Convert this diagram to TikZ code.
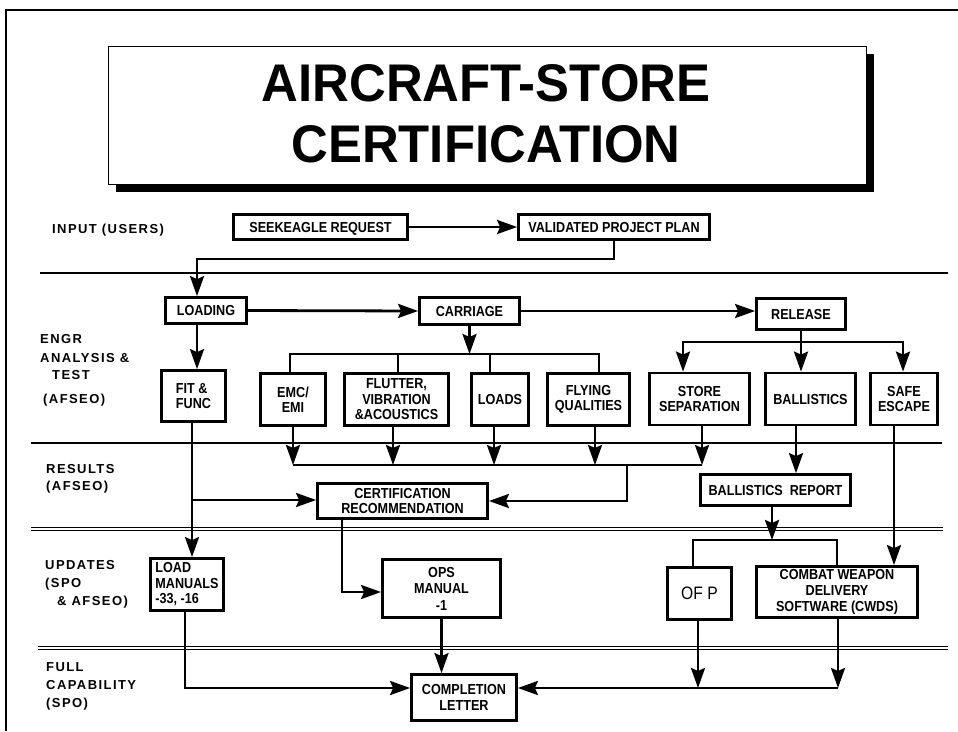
\documentclass[tikz,border=0pt]{standalone}
\usepackage{fontspec}
\setmainfont{Liberation Sans}
\newfontfamily\lblfont{Liberation Sans}[LetterSpace=11]
\newfontfamily\boxfont{Liberation Sans}[FakeStretch=0.87]
\newfontfamily\titlefont{Liberation Sans}[FakeStretch=0.96]
\usetikzlibrary{arrows.meta,calc,shadows}
\begin{document}
\begin{tikzpicture}[x=1pt,y=-1pt,
  box/.style={draw, line width=2.8pt, fill=white, inner sep=1pt, align=center,
    font={\boxfont\bfseries\fontsize{14.5}{15.5}\selectfont}},
  oneline/.style={text height=10.4pt, text depth=0pt},
  lbl/.style={anchor=base west, inner sep=0pt, font={\lblfont\bfseries\fontsize{13}{15}\selectfont}},
  ttl/.style={anchor=base, inner sep=0pt, font={\titlefont\bfseries\fontsize{53}{60}\selectfont}},
  conn/.style={line width=2.8pt},
  arr/.style={conn, -{Stealth[length=20pt,width=14pt,inset=3pt]}},
  sep/.style={line width=2pt},
  dsep/.style={double, double distance=1.6pt, line width=0.8pt},
]
\useasboundingbox (0,0) rectangle (958,731);
% outer frame
\draw[line width=1.3pt] (958,10) -- (6,10) -- (6,731);
% title
\node[draw, line width=0.8pt, fill=white, minimum width=758pt, minimum height=138pt,
  drop shadow={shadow xshift=7pt, shadow yshift=-7pt, fill=black, opacity=1}] (titlebox) at (487.5,115.5) {};
\node[ttl] (t1) at (486,101) {AIRCRAFT-STORE};
\node[ttl] (t2) at (486,162) {CERTIFICATION};
% separators
\draw[sep] (40,273) -- (948,273);
\draw[sep] (31,443) -- (942,443);
\draw[dsep] (31,529) -- (943,529);
\draw[dsep] (38,648) -- (948,648);
% row labels
\node[lbl] (l1) at (52,233) {INPUT (USERS)};
\node[lbl] (l2) at (40,343) {ENGR};
\node[lbl] (l3) at (40,362) {ANALYSIS \&};
\node[lbl] (l4) at (52,379) {TEST};
\node[lbl] (l5) at (43,403) {(AFSEO)};
\node[lbl] (l6) at (46,473) {RESULTS};
\node[lbl] (l7) at (46,490) {(AFSEO)};
\node[lbl] (l8) at (45,569) {UPDATES};
\node[lbl] (l9) at (45,587) {(SPO};
\node[lbl] (l10) at (57,605) {\& AFSEO)};
\node[lbl] (l11) at (46,671) {FULL};
\node[lbl] (l12) at (46,689) {CAPABILITY};
\node[lbl] (l13) at (46,707) {(SPO)};
% boxes
\node[box, oneline, minimum width=174pt, minimum height=25pt] (seek) at (320.5,227) {SEEKEAGLE REQUEST};
\node[box, oneline, minimum width=191pt, minimum height=25pt] (valid) at (614,227) {VALIDATED PROJECT PLAN};
\node[box, oneline, minimum width=81pt, minimum height=26pt] (loading) at (206,310.5) {LOADING};
\node[box, oneline, minimum width=100pt, minimum height=27pt] (carriage) at (469.5,311) {CARRIAGE};
\node[box, oneline, minimum width=89pt, minimum height=31pt] (release) at (801,314) {RELEASE};
\node[box, align=left, minimum width=64pt, minimum height=51pt] (fit) at (193.5,396) {FIT \&\\FUNC};
\node[box, minimum width=65pt, minimum height=52pt] (emc) at (293,399.5) {EMC/\\EMI};
\node[box, minimum width=104pt, minimum height=52pt] (flutter) at (396.5,399.5) {FLUTTER,\\VIBRATION\\\&ACOUSTICS};
\node[box, oneline, minimum width=57pt, minimum height=52pt] (loads) at (500,399.5) {LOADS};
\node[box, minimum width=82pt, minimum height=52pt] (flying) at (588.5,399.5) {FLYING\\QUALITIES};
\node[box, minimum width=100pt, minimum height=52pt] (storesep) at (699.5,399) {STORE\\SEPARATION};
\node[box, oneline, minimum width=90pt, minimum height=52pt] (ballistics) at (810.5,399) {BALLISTICS};
\node[box, minimum width=67pt, minimum height=52pt] (safe) at (904,399) {SAFE\\ESCAPE};
\node[box, minimum width=170pt, minimum height=35pt] (cert) at (402.5,501) {CERTIFICATION\\RECOMMENDATION};
\node[box, oneline, minimum width=150pt, minimum height=31pt] (brep) at (775.5,490) {BALLISTICS\ \ REPORT};
\node[box, align=left, minimum width=73pt, minimum height=52pt] (loadman) at (187,584.5) {LOAD\\MANUALS\\-33, -16};
\node[box, minimum width=118pt, minimum height=58pt, font={\boxfont\bfseries\fontsize{14.5}{16.5}\selectfont}] (ops) at (441.5,588.5) {OPS\\MANUAL\\-1};
\node[box, minimum width=64pt, minimum height=52pt, font={\boxfont\fontsize{18}{20}\selectfont}] (ofp) at (699.5,593.5) {OF P};
\node[box, minimum width=161pt, minimum height=51pt, font={\boxfont\bfseries\fontsize{14.5}{16}\selectfont}] (cwds) at (837,592) {COMBAT WEAPON\\DELIVERY\\SOFTWARE (CWDS)};
\node[box, minimum width=105pt, minimum height=46pt] (compl) at (464,697.5) {COMPLETION\\LETTER};
% input row
\draw[arr] (seek.east) -- (valid.west);
\coordinate (j1) at (197,259);
\draw[arr] (valid.south) |- (j1) -- (j1 |- loading.north);
% engr row
\draw[arr] (loading.east) -- (carriage.west);
\draw[arr] (carriage.east) -- (carriage.east -| release.west);
\draw[arr] (j1 |- loading.south) -- (j1 |- fit.north);
\coordinate (cbL) at (290,354);
\coordinate (cb2) at (398,354);
\coordinate (cb3) at (490,354);
\coordinate (cbR) at (599,354);
\draw[conn] (cbL |- emc.north) -- (cbL) -- (cbR) -- (cbR |- flying.north);
\draw[conn] (cb2) -- (cb2 |- flutter.north);
\draw[conn] (cb3) -- (cb3 |- loads.north);
\draw[arr] (carriage.south) -- (carriage.south |- cbL);
\coordinate (rbL) at (683,342);
\coordinate (rbR) at (903,342);
\draw[arr] (release.south |- rbL) -- (rbL) -- (rbL |- storesep.north);
\draw[arr] (release.south |- rbL) -- (rbR) -- (rbR |- safe.north);
\draw[arr] (release.south) -- (release.south |- ballistics.north);
% results row
\coordinate (rsL) at (293,465);
\coordinate (rs2) at (393,465);
\coordinate (rs3) at (494,465);
\coordinate (rs4) at (595,465);
\coordinate (rsR) at (702,465);
\coordinate (rsJ) at (627,465);
\draw[conn] (rsL) -- (rsR);
\draw[arr] (rsL |- emc.south) -- (rsL);
\draw[arr] (rs2 |- flutter.south) -- (rs2);
\draw[arr] (rs3 |- loads.south) -- (rs3);
\draw[arr] (rs4 |- flying.south) -- (rs4);
\draw[arr] (rsR |- storesep.south) -- (rsR);
\draw[arr] (rsJ) |- (cert.east);
\coordinate (bb) at (796,440);
\draw[arr] (bb |- ballistics.south) -- (bb |- brep.north);
\coordinate (fx) at (192,500);
\draw[arr] (fx |- fit.south) -- (fx |- loadman.north);
\draw[arr] (fx) -- (fx -| cert.west);
% updates row
\coordinate (cx) at (342,592);
\draw[arr] (cx |- cert.south) -- (cx) -- (cx -| ops.west);
\coordinate (ub) at (772,540);
\coordinate (ubL) at (693,540);
\coordinate (ubR) at (837,540);
\draw[arr] (ub |- brep.south) -- (ub);
\draw[conn] (ubL |- ofp.north) -- (ubL) -- (ubR) -- (ubR |- cwds.north);
\coordinate (sx) at (894,500);
\draw[arr] (sx |- safe.south) -- (sx |- cwds.north);
% full capability row
\draw[arr] (ops.south) -- (ops.south |- compl.north);
\coordinate (lx) at (185,688);
\draw[arr] (lx |- loadman.south) -- (lx) -- (lx -| compl.west);
\coordinate (fbL) at (698,688);
\coordinate (fbR) at (838,688);
\draw[arr] (fbL |- ofp.south) -- (fbL);
\draw[arr] (fbR |- cwds.south) -- (fbR);
\draw[arr] (fbR) -- (fbR -| compl.east);
\end{tikzpicture}
\end{document}
